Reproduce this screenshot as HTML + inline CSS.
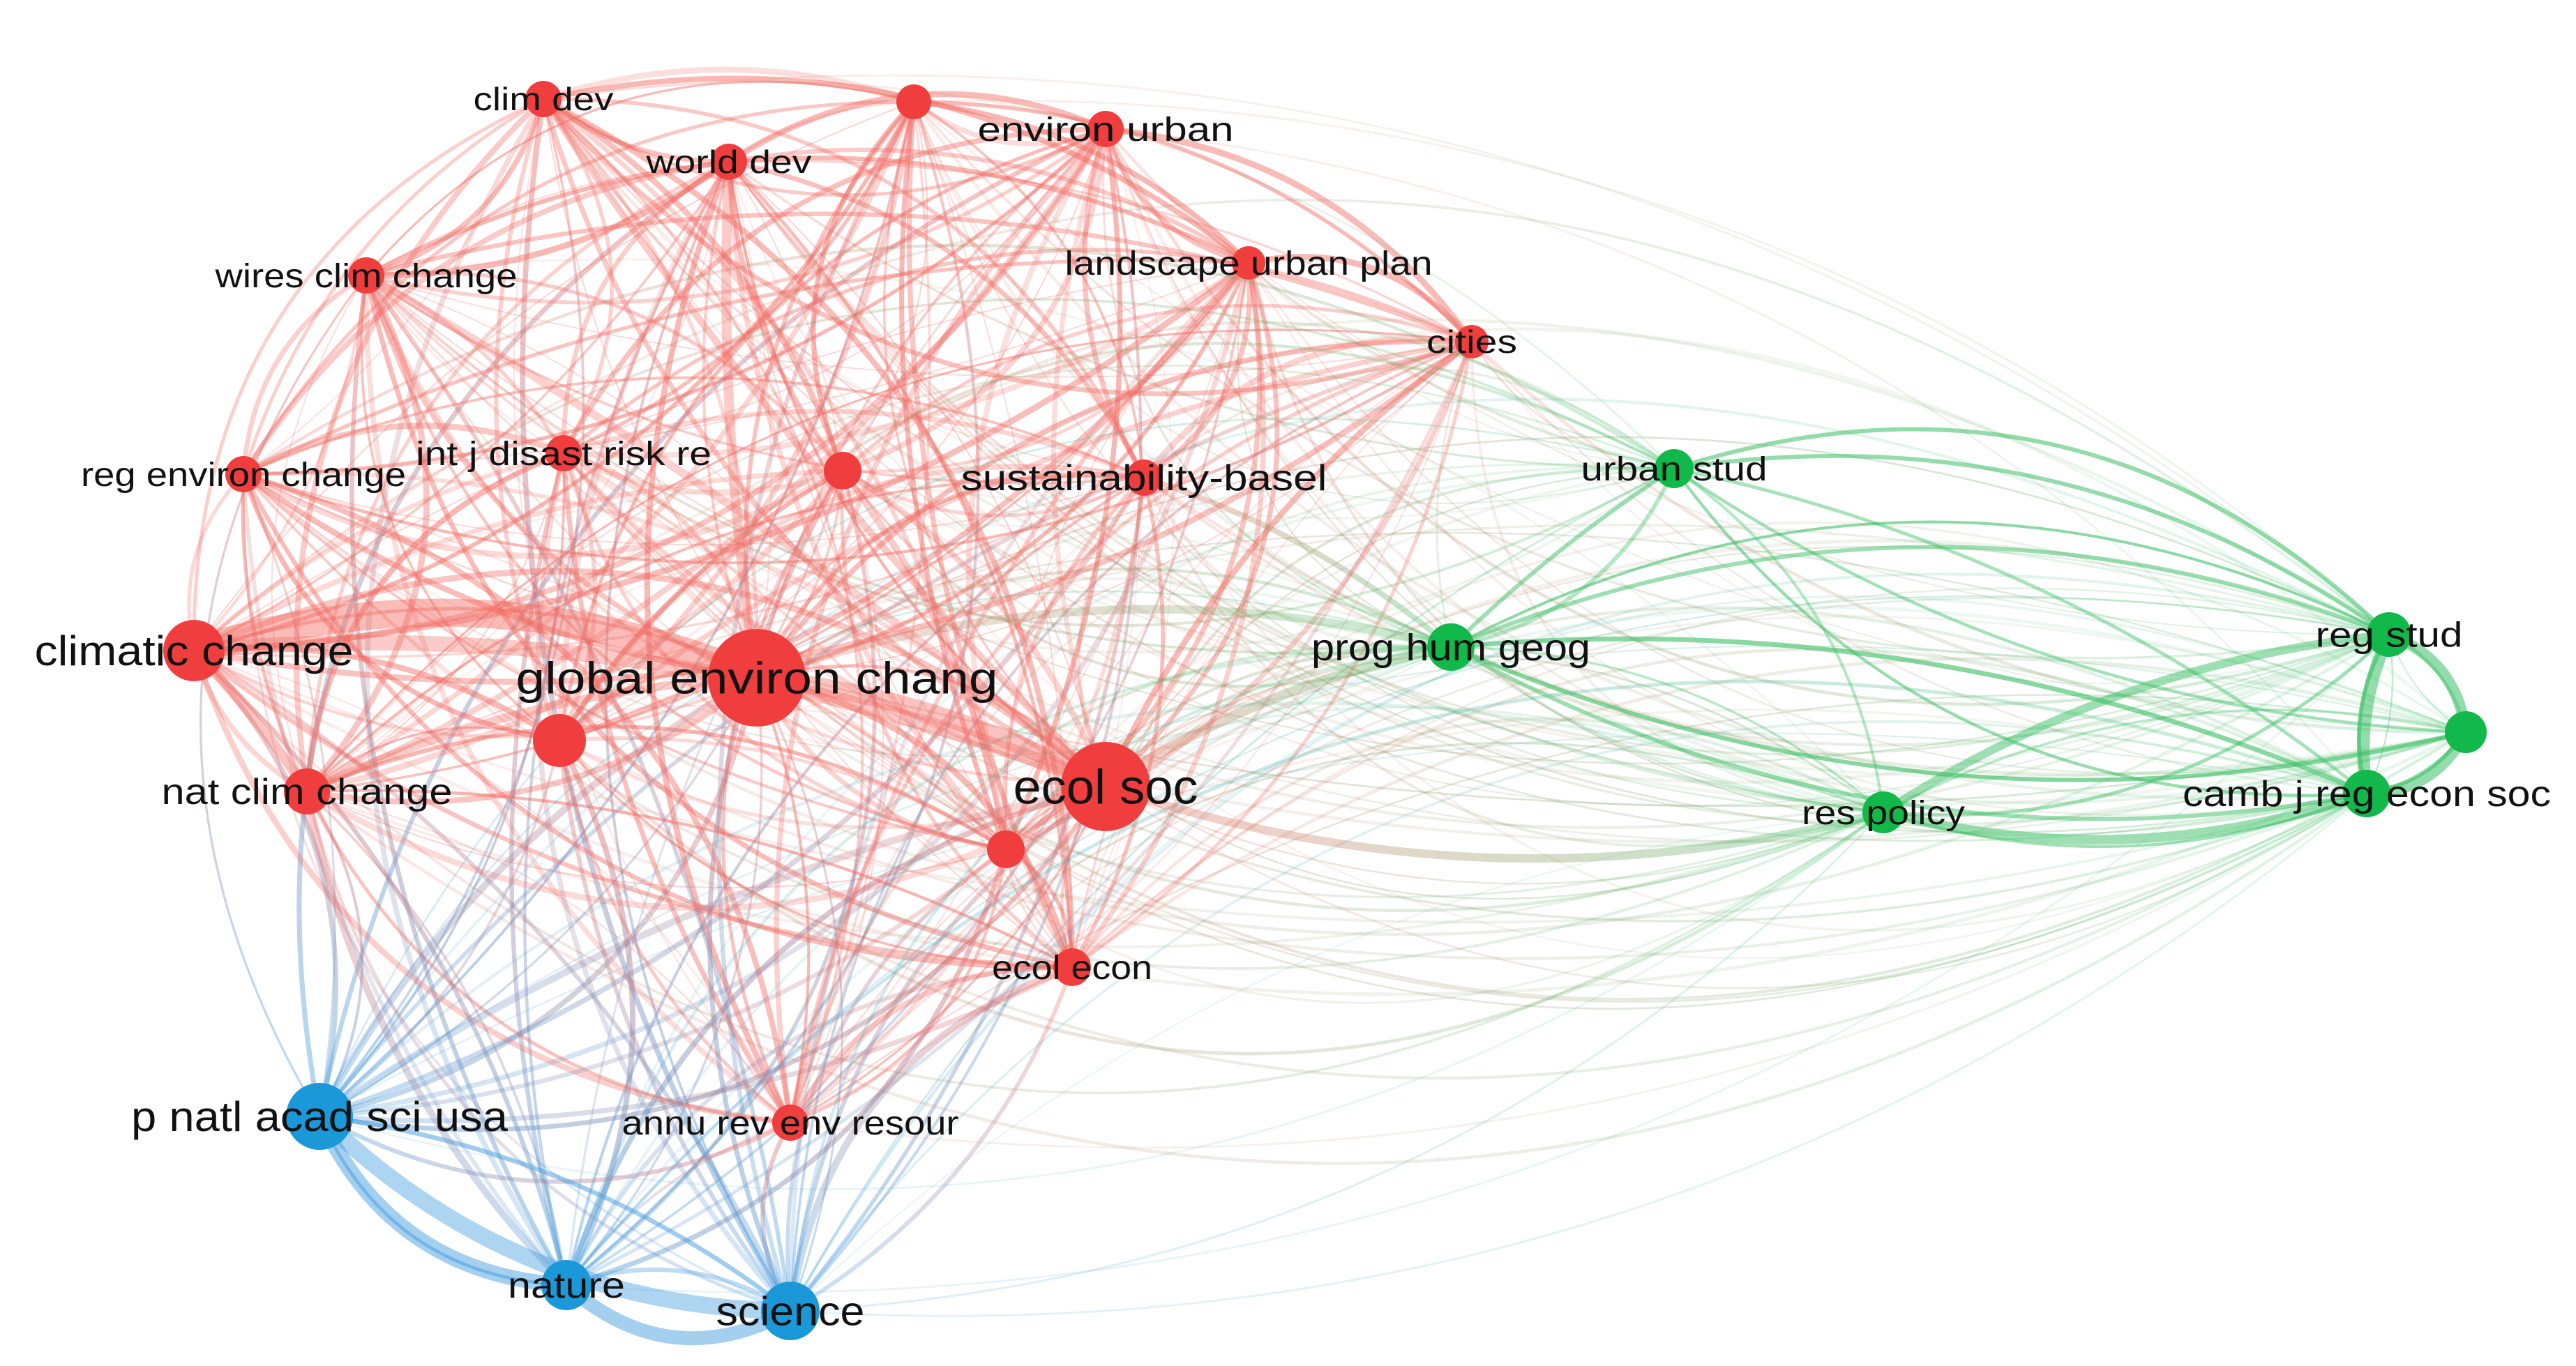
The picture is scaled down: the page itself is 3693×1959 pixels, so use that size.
<!DOCTYPE html>
<html><head><meta charset="utf-8">
<style>
html,body{margin:0;padding:0;background:#fff;}
svg{display:block;}
text{font-family:"Liberation Sans",sans-serif;fill:#111;}
</style></head>
<body>
<svg id="s" width="3693" height="1959" viewBox="0 0 3693 1959" xmlns="http://www.w3.org/2000/svg">
<g id="edges"></g>
<g id="nodes"></g>
<g id="labels"></g>
</svg>
<script>
var N=[
["climdev",779,142,26,0,"clim dev",46,201],
["top",1310,146,25,0,"",0,0],
["envurb",1585,185,26,0,"environ urban",48,367],
["worlddev",1045,232,26,0,"world dev",46,237],
["wires",525,395,26,0,"wires clim change",48,433],
["landscape",1790,377,24,0,"landscape urban plan",48,527],
["cities",2110,490,24,0,"cities",46,130],
["regenv",349,680,26,0,"reg environ change",48,466],
["intj",808,650,26,0,"int j disast risk re",48,424],
["mid",1208,675,27,0,"",0,0],
["sust",1640,685,26,0,"sustainability-basel",52,525],
["climatic",278,933,44,0,"climatic change",60,457],
["global",1085,972,70,0,"global environ chang",64,691],
["big",802,1062,38,0,"",0,0],
["natclim",440,1135,33,0,"nat clim change",52,417],
["ecolsoc",1585,1128,64,0,"ecol soc",70,265],
["small2",1442,1218,27,0,"",0,0],
["ecolecon",1537,1387,27,0,"ecol econ",48,230],
["annu",1133,1610,26,0,"annu rev env resour",48,483],
["pnatl",458,1601,48,1,"p natl acad sci usa",60,540],
["nature",812,1843,36,1,"nature",52,168],
["science",1133,1880,42,1,"science",58,213],
["urbanstud",2400,672,28,2,"urban stud",48,267],
["prog",2080,928,34,2,"prog hum geog",54,400],
["resp",2700,1165,30,2,"res policy",48,234],
["regstud",3425,910,32,2,"reg stud",50,211],
["green3",3535,1050,30,2,"",0,0],
["camb",3393,1138,34,2,"camb j reg econ soc",52,528]
];
var col=["#f03e3e","#1a98d8","#13b84a"];
var ecol=["#f26a62","#4aa0e0","#3cc066"];
var idx={};N.forEach(function(n,i){idx[n[0]]=i;});
var seed=7;function rnd(){seed=(seed*16807)%2147483647;return (seed-1)/2147483646;}
var ns="http://www.w3.org/2000/svg";
var E=document.getElementById("edges"),defs=document.createElementNS(ns,"defs");
document.getElementById("s").insertBefore(defs,E);
var gid=0;
function edge(a,b,w,op,curv){
 var A=N[a],B=N[b];
 var dx=B[1]-A[1],dy=B[2]-A[2];
 var mx=(A[1]+B[1])/2+dy*curv,my=(A[2]+B[2])/2-dx*curv;
 var p=document.createElementNS(ns,"path");
 p.setAttribute("d","M"+A[1]+","+A[2]+" Q"+mx+","+my+" "+B[1]+","+B[2]);
 p.setAttribute("fill","none");
 p.setAttribute("stroke-width",w);
 p.setAttribute("stroke-linecap","round");
 p.setAttribute("stroke-opacity",op);
 if(A[4]==B[4]){p.setAttribute("stroke",ecol[A[4]]);}
 else{
  var g=document.createElementNS(ns,"linearGradient");
  g.setAttribute("id","g"+gid);g.setAttribute("gradientUnits","userSpaceOnUse");
  g.setAttribute("x1",A[1]);g.setAttribute("y1",A[2]);g.setAttribute("x2",B[1]);g.setAttribute("y2",B[2]);
  var s1=document.createElementNS(ns,"stop");s1.setAttribute("offset","0");s1.setAttribute("stop-color",ecol[A[4]]);
  var s2=document.createElementNS(ns,"stop");s2.setAttribute("offset","1");s2.setAttribute("stop-color",ecol[B[4]]);
  g.appendChild(s1);g.appendChild(s2);defs.appendChild(g);
  p.setAttribute("stroke","url(#g"+gid+")");gid++;
 }
 E.appendChild(p);
}
function T(a,b,w,op,c){edge(idx[a],idx[b],w,op,c);}
for(var i=0;i<N.length;i++)for(var j=i+1;j<N.length;j++){
 var A=N[i],B=N[j];
 var same=A[4]==B[4];
 var op,w;
 if(same&&A[4]==0){op=0.22+rnd()*0.28;w=3+rnd()*6;}
 else if(same){op=0.35+rnd()*0.3;w=3+rnd()*4;}
 else if((A[4]==0&&B[4]==1)||(A[4]==1&&B[4]==0)){op=0.22+rnd()*0.25;w=3+rnd()*5;}
 else {op=0.1+rnd()*0.18;w=2+rnd()*3;}
 var c=(rnd()<0.5?1:-1)*(0.12+rnd()*0.22);
 if(B[4]==2&&A[4]!=2){c=(A[2]>B[2]?1:-1)*(0.15+rnd()*0.3);}
 edge(i,j,w,op,c);
 if(same&&rnd()<0.3)edge(i,j,2,op*0.6,-c*0.7);
}
// faint outer arcs over top
T("climdev","regstud",3,0.12,0.22);
T("top","regstud",3,0.12,0.2);
T("envurb","camb",3,0.12,0.2);
T("climdev","urbanstud",3,0.15,0.25);
T("wires","resp",3,0.1,0.25);
T("science","camb",3,0.15,-0.2);
T("science","resp",3,0.18,-0.2);
T("nature","regstud",3,0.12,-0.22);
T("annu","camb",3,0.12,-0.18);
T("pnatl","resp",3,0.12,-0.25);
// thick
T("climatic","global",40,0.45,0.18);
T("climatic","ecolsoc",22,0.35,0.12);
T("global","ecolsoc",26,0.4,0.1);
T("global","worlddev",14,0.35,0.05);
T("climdev","ecolsoc",10,0.35,-0.05);
T("wires","ecolsoc",12,0.3,0.04);
T("climatic","natclim",14,0.4,0.05);
T("natclim","global",12,0.35,0.1);
T("pnatl","nature",22,0.5,-0.3);
T("pnatl","science",24,0.45,-0.2);
T("nature","science",20,0.5,-0.35);
T("pnatl","global",10,0.35,0.15);
T("pnatl","ecolsoc",10,0.3,0.1);
T("natclim","nature",10,0.35,-0.15);
T("science","ecolecon",10,0.35,0.3);
T("ecolsoc","prog",14,0.35,0.1);
T("global","prog",12,0.3,0.15);
T("ecolsoc","resp",12,0.35,-0.15);
T("resp","camb",14,0.5,-0.15);
T("resp","regstud",12,0.5,0.12);
T("regstud","camb",18,0.55,-0.15);
T("regstud","green3",16,0.55,0.3);
T("green3","camb",16,0.55,0.3);
T("urbanstud","regstud",6,0.55,0.2);
T("prog","regstud",6,0.5,0.2);
T("prog","camb",6,0.5,-0.18);
T("urbanstud","camb",5,0.45,0.12);
T("sust","prog",8,0.35,0.1);
T("prog","urbanstud",6,0.5,0.05);
var G=document.getElementById("nodes"),Lb=document.getElementById("labels");
N.forEach(function(n){
 var c=document.createElementNS(ns,"circle");
 c.setAttribute("cx",n[1]);c.setAttribute("cy",n[2]);c.setAttribute("r",n[3]);
 c.setAttribute("fill",col[n[4]]);G.appendChild(c);
 if(n[5]){
  var t=document.createElementNS(ns,"text");
  t.setAttribute("x",n[1]);t.setAttribute("y",n[2]+n[6]*0.35);
  t.setAttribute("text-anchor","middle");t.setAttribute("font-size",n[6]);
  t.setAttribute("textLength",n[7]);t.setAttribute("lengthAdjust","spacingAndGlyphs");
  t.textContent=n[5];Lb.appendChild(t);
 }
});
</script>
</body></html>
